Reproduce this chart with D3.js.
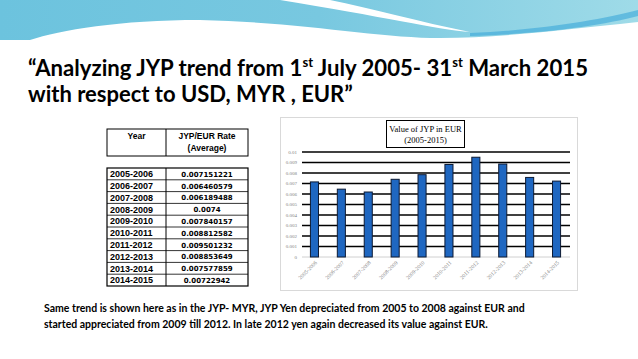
<!DOCTYPE html>
<html><head><meta charset="utf-8">
<script src="https://cdn.jsdelivr.net/npm/d3@7"></script>
<style>
html,body{margin:0;padding:0;background:#fff;}
svg{display:block;}
</style></head>
<body>
<svg id="c" width="638" height="359"></svg>
<script>
const years = ["2005-2006","2006-2007","2007-2008","2008-2009","2009-2010","2010-2011","2011-2012","2012-2013","2013-2014","2014-2015"];
const rateLabels = ["0.007151221","0.006460579","0.006189488","0.0074","0.007840157","0.008812582","0.009501232","0.008853649","0.007577859","0.00722942"];
const rates = rateLabels.map(Number);
const yTicks = [0,0.001,0.002,0.003,0.004,0.005,0.006,0.007,0.008,0.009,0.01];
const yTickLabels = ["0","0.001","0.002","0.003","0.004","0.005","0.006","0.007","0.008","0.009","0.01"];

const svg = d3.select("#c");

// background decoration
const defs = svg.append("defs");
const g1 = defs.append("linearGradient").attr("id","bg1").attr("x1","0").attr("x2","1").attr("y1","0").attr("y2","0");
g1.append("stop").attr("offset","0").attr("stop-color","#6cc3de");
g1.append("stop").attr("offset","0.5").attr("stop-color","#78c8e0");
g1.append("stop").attr("offset","1").attr("stop-color","#9fdbe8");
svg.append("path").attr("d","M0,0 L638,0 L638,22 C560,30 500,38 440,38 C380,38 300,22 200,20 C120,20 60,30 30,40 L0,40 Z").attr("fill","url(#bg1)");
svg.append("path").attr("d","M280,0 L330,0 C370,8 420,22 470,32 C440,30 380,16 280,0 Z").attr("fill","#ffffff");
svg.append("path").attr("d","M470,33 C540,30 600,20 638,10 L638,16 C600,26 540,34 470,36 Z").attr("fill","#3aa6d8").attr("opacity",0.6);

// Title
const title = svg.append("text").attr("x",28).attr("y",76).attr("font-family","Lato, 'Open Sans', sans-serif").attr("font-weight","bold").attr("font-size",22).attr("fill","#000")
  .attr("textLength",560).attr("lengthAdjust","spacingAndGlyphs");
title.append("tspan").text("\u201cAnalyzing JYP trend from 1");
title.append("tspan").attr("font-size",13).attr("dy",-9).text("st");
title.append("tspan").attr("dy",9).text(" July 2005- 31");
title.append("tspan").attr("font-size",13).attr("dy",-9).text("st");
title.append("tspan").attr("dy",9).text(" March 2015");
svg.append("text").attr("x",28).attr("y",102).attr("font-family","Lato, 'Open Sans', sans-serif").attr("font-weight","bold").attr("font-size",22).attr("fill","#000").text("with respect to USD, MYR , EUR\u201d");

// Table
const tL = 107, tD = 166, tR = 248;
const hTop = 129, hBot = 156, dTop = 168, rowH = 11.8;
const tg = svg.append("g");
tg.append("rect").attr("x",tL).attr("y",hTop).attr("width",tR-tL).attr("height",hBot-hTop).attr("fill","#fff").attr("stroke","#000").attr("stroke-width",1);
tg.append("line").attr("x1",tD).attr("x2",tD).attr("y1",hTop).attr("y2",hBot).attr("stroke","#000");
tg.append("text").attr("x",(tL+tD)/2).attr("y",139).attr("text-anchor","middle").attr("font-family","Liberation Sans, Arial, sans-serif").attr("font-weight","bold").attr("font-size",8.5).text("Year");
tg.append("text").attr("x",(tD+tR)/2).attr("y",139).attr("text-anchor","middle").attr("font-family","Liberation Sans, Arial, sans-serif").attr("font-weight","bold").attr("font-size",8.5).text("JYP/EUR Rate");
tg.append("text").attr("x",(tD+tR)/2).attr("y",151).attr("text-anchor","middle").attr("font-family","Liberation Sans, Arial, sans-serif").attr("font-weight","bold").attr("font-size",8.5).text("(Average)");
const rowY = d3.scaleBand().domain(years).range([dTop, dTop + rowH*years.length]);
tg.append("rect").attr("x",tL).attr("y",dTop).attr("width",tR-tL).attr("height",rowH*years.length).attr("fill","#fff").attr("stroke","#000").attr("stroke-width",1.2);
tg.append("line").attr("x1",tD).attr("x2",tD).attr("y1",dTop).attr("y2",dTop+rowH*years.length).attr("stroke","#000");
years.forEach((y,i)=>{
  if(i>0) tg.append("line").attr("x1",tL).attr("x2",tR).attr("y1",rowY(y)).attr("y2",rowY(y)).attr("stroke","#000").attr("stroke-width",0.8);
  tg.append("text").attr("x",tL+3).attr("y",rowY(y)+rowH/2+3.2).attr("font-family","Liberation Sans, Arial, sans-serif").attr("font-weight","bold").attr("font-size",9).text(y);
  tg.append("text").attr("x",(tD+tR)/2).attr("y",rowY(y)+rowH/2+2.8).attr("text-anchor","middle").attr("font-family","'DejaVu Sans', Verdana, sans-serif").attr("font-weight","bold").attr("font-size",7).text(rateLabels[i]);
});

// Chart
const cg = svg.append("g");
cg.append("rect").attr("x",280.5).attr("y",117.5).attr("width",297).attr("height",173).attr("fill","#fff").attr("stroke","#d9d9d9").attr("stroke-width",1);
const x = d3.scaleBand().domain(years).range([301,570]).paddingInner(0.7).paddingOuter(0.35);
const y = d3.scaleLinear().domain([0,0.01]).range([257,152]);

cg.selectAll(".grid").data(yTicks.slice(1)).join("line")
  .attr("x1",302).attr("x2",570).attr("y1",d=>y(d)).attr("y2",d=>y(d))
  .attr("stroke","#000").attr("stroke-width",1.4);
cg.append("line").attr("x1",302).attr("x2",570).attr("y1",y(0)).attr("y2",y(0)).attr("stroke","#d0d0d0").attr("stroke-width",1);

cg.selectAll(".yl").data(yTicks).join("text")
  .attr("x",297).attr("y",d=>y(d)+1.8).attr("text-anchor","end")
  .attr("font-family","'Liberation Serif', serif").attr("font-size",5).attr("fill","#808080")
  .text((d,i)=>yTickLabels[i]);

cg.selectAll(".bar").data(rates).join("rect")
  .attr("x",(d,i)=>x(years[i])).attr("width",x.bandwidth())
  .attr("y",d=>y(d)).attr("height",d=>y(0)-y(d))
  .attr("fill","#1f67c1").attr("stroke","#0d1a33").attr("stroke-width",1);

cg.selectAll(".xl").data(years).join("text")
  .attr("transform",d=>`translate(${x(d)+x.bandwidth()/2+3},${y(0)+6}) rotate(-45)`)
  .attr("text-anchor","end")
  .attr("font-family","'Liberation Serif', serif").attr("font-size",5.5).attr("fill","#808080")
  .text(d=>d);

cg.append("rect").attr("x",386.5).attr("y",120.5).attr("width",78).attr("height",27).attr("fill","#fff").attr("stroke","#000").attr("stroke-width",1);
cg.append("text").attr("x",425.5).attr("y",131.5).attr("text-anchor","middle").attr("font-family","'Liberation Serif', serif").attr("font-size",8.5).text("Value of JYP in EUR");
cg.append("text").attr("x",425.5).attr("y",143).attr("text-anchor","middle").attr("font-family","'Liberation Serif', serif").attr("font-size",8.5).text("(2005-2015)");

svg.append("text").attr("x",44).attr("y",312).attr("font-family","Lato, 'Open Sans', sans-serif").attr("font-weight","bold").attr("font-size",10.5)
  .text("Same trend is shown here as in the JYP- MYR, JYP Yen depreciated from 2005 to 2008 against EUR and");
svg.append("text").attr("x",44).attr("y",328).attr("font-family","Lato, 'Open Sans', sans-serif").attr("font-weight","bold").attr("font-size",10.5)
  .text("started appreciated from 2009 till 2012. In late 2012 yen again decreased its value against EUR.");
</script>
</body></html>
